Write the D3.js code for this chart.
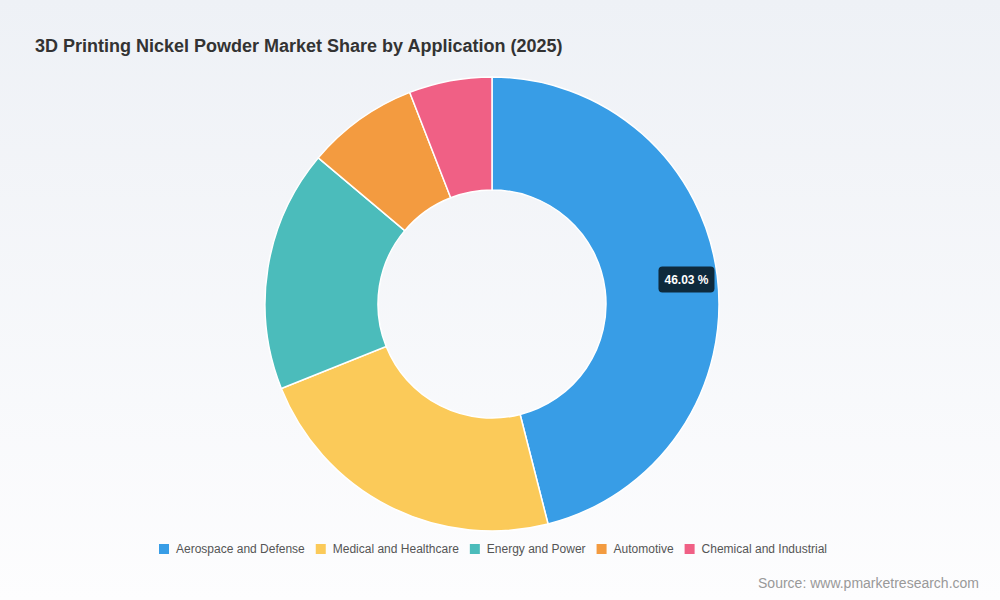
<!DOCTYPE html>
<html><head><meta charset="utf-8">
<script src="https://cdn.jsdelivr.net/npm/d3@7"></script>
<style>html,body{margin:0;padding:0;}body{width:1000px;height:600px;overflow:hidden;font-family:"Liberation Sans",Arial,sans-serif;}</style>
</head><body><svg id="c" width="1000" height="600"></svg>
<script>
const categories = ["Aerospace and Defense","Medical and Healthcare","Energy and Power","Automotive","Chemical and Industrial"];
const shares = [46.03, 22.9, 17.2, 7.97, 5.9];
const colors = ["#389de6","#fbca59","#4bbcbb","#f39b40","#f06085"];
const title = "3D Printing Nickel Powder Market Share by Application (2025)";
const source = "Source: www.pmarketresearch.com";

const svg = d3.select("#c");
const defs = svg.append("defs");
const g = defs.append("linearGradient").attr("id","bg").attr("x1",0).attr("y1",0).attr("x2",0).attr("y2",1);
g.append("stop").attr("offset","0%").attr("stop-color","#eef1f6");
g.append("stop").attr("offset","100%").attr("stop-color","#fdfdfe");
svg.append("rect").attr("width",1000).attr("height",600).attr("fill","url(#bg)");

svg.append("text").attr("x",35).attr("y",52).text(title)
  .attr("font-size",18).attr("font-weight","bold").attr("fill","#333");

const cx=492, cy=304, R=227, r0=114;
const pie = d3.pie().sort(null).value(d=>d);
const arcs = pie(shares);
const arc = d3.arc().innerRadius(r0).outerRadius(R);
const cg = svg.append("g").attr("transform",`translate(${cx},${cy})`);
cg.selectAll("path").data(arcs).enter().append("path")
  .attr("d",arc).attr("fill",(d,i)=>colors[i]).attr("stroke","#fff").attr("stroke-width",1.5);

// label for largest slice
const la = arcs[0];
const lArc = d3.arc().innerRadius(196).outerRadius(196);
const [lx,ly] = lArc.centroid(la);
const lbl = cg.append("g").attr("transform",`translate(${lx},${ly})`);
lbl.append("rect").attr("x",-28).attr("y",-13).attr("width",56).attr("height",26).attr("rx",4).attr("fill","#0e2a3c");
lbl.append("text").attr("text-anchor","middle").attr("dy","0.35em").attr("font-size",12).attr("font-weight","bold")
  .attr("fill","#fff").text(shares[0].toFixed(2)+" %");

// legend
const leg = svg.append("g");
let x = 159;
categories.forEach((c,i)=>{
  leg.append("rect").attr("x",x).attr("y",544).attr("width",10).attr("height",10).attr("fill",colors[i]);
  const t = leg.append("text").attr("x",x+17).attr("y",549).attr("dy","0.35em").attr("font-size",12).attr("fill","#555").text(c);
  x += 17 + t.node().getComputedTextLength() + 11;
});

svg.append("text").attr("x",979).attr("y",588).attr("text-anchor","end").attr("font-size",14).attr("fill","#999").text(source);
</script></body></html>
